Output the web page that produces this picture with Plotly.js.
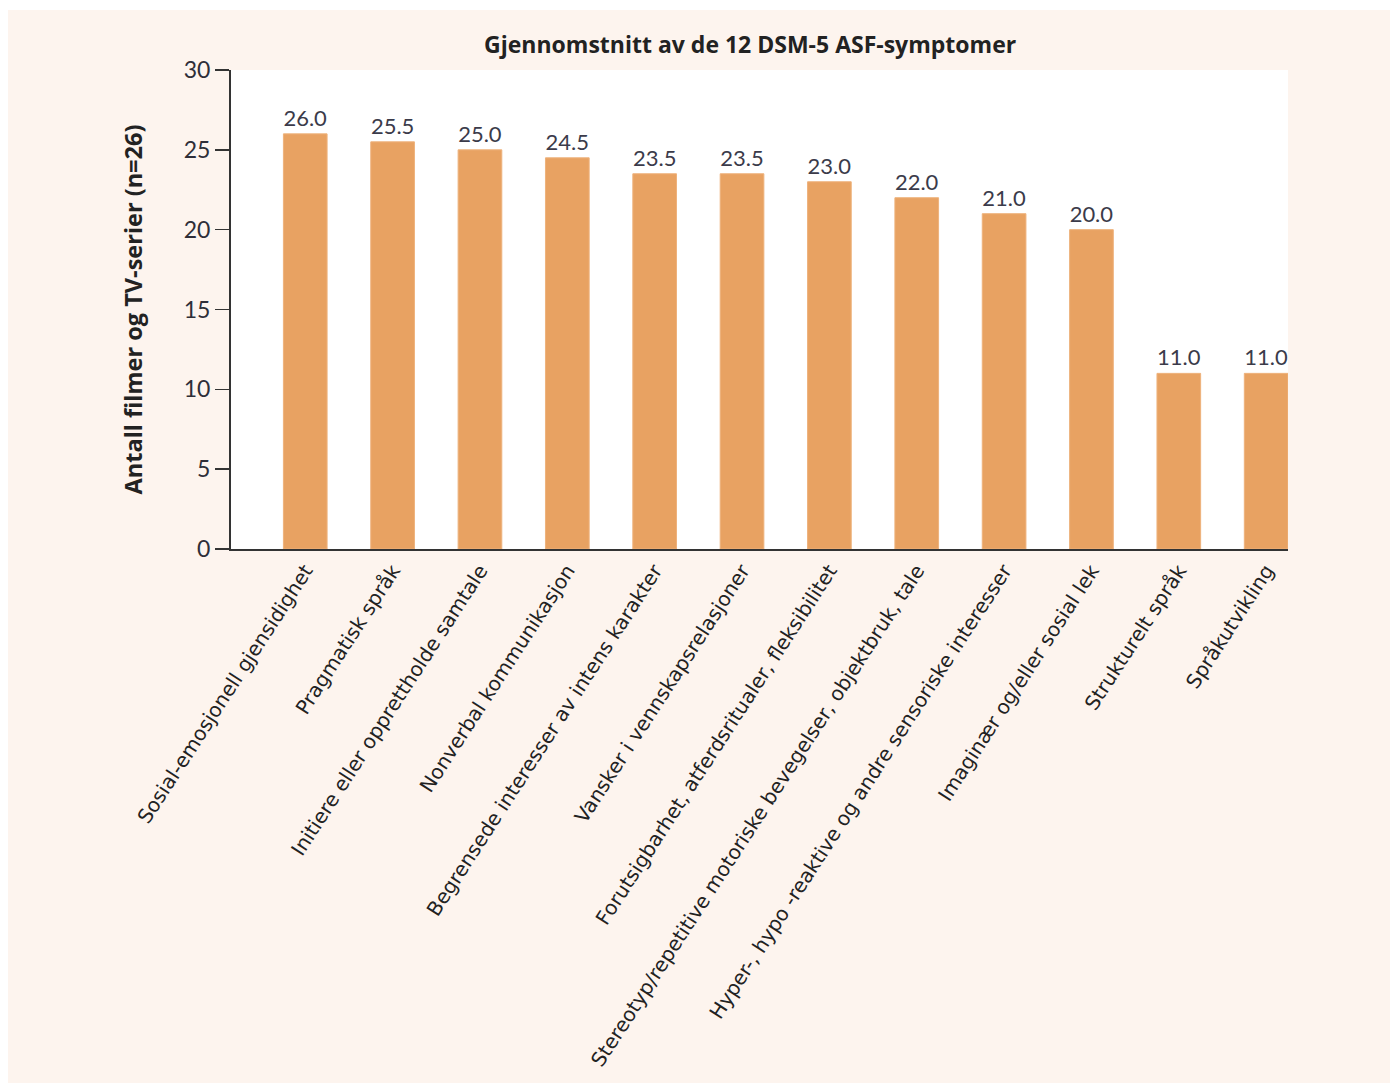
<!DOCTYPE html>
<html>
<head>
<meta charset="utf-8">
<script src="https://cdn.plot.ly/plotly-3.0.1.min.js"></script>
<style>
html,body{margin:0;padding:0;background:#ffffff;}
#chart{position:absolute;left:8px;top:10px;width:1382px;height:1073px;}
</style>
</head>
<body>
<div id="chart"></div>
<script>
const categories = [
  "Sosial-emosjonell gjensidighet",
  "Pragmatisk språk",
  "Initiere eller opprettholde samtale",
  "Nonverbal kommunikasjon",
  "Begrensede interesser av intens karakter",
  "Vansker i vennskapsrelasjoner",
  "Forutsigbarhet, atferdsritualer, fleksibilitet",
  "Stereotyp/repetitive motoriske bevegelser, objektbruk, tale",
  "Hyper-, hypo -reaktive og andre sensoriske interesser",
  "Imaginær og/eller sosial lek",
  "Strukturelt språk",
  "Språkutvikling"
];
const values = [26.0, 25.5, 25.0, 24.5, 23.5, 23.5, 23.0, 22.0, 21.0, 20.0, 11.0, 11.0];
const valueLabels = values.map(v => v.toFixed(1));
const yTicks = [0, 5, 10, 15, 20, 25, 30];

const trace = {
  type: 'bar',
  x: categories,
  y: values,
  text: valueLabels,
  textposition: 'outside',
  cliponaxis: false,
  textfont: {family: 'Lato, sans-serif', size: 22, color: '#3b3b4a'},
  marker: {color: '#e8a262', line: {color: '#eeb27c', width: 1}},
  width: 0.5,
  hoverinfo: 'skip'
};

const layout = {
  width: 1382,
  height: 1073,
  margin: {l: 223, r: 102, t: 60, b: 534},
  paper_bgcolor: '#fdf4ee',
  plot_bgcolor: '#ffffff',
  showlegend: false,
  title: {
    text: '<b>Gjennomstnitt av de 12 DSM-5 ASF-symptomer</b>',
    font: {family: '"Open Sans", sans-serif', size: 23, color: '#222222'},
    x: 0.537, xref: 'container', xanchor: 'center',
    y: 1 - 35/1073, yref: 'container', yanchor: 'middle'
  },
  xaxis: {
    type: 'category',
    range: [-0.85, 11.25],
    tickangle: -57,
    tickfont: {family: '"DejaVu Sans", sans-serif', size: 20, color: '#222222'},
    showline: true,
    linecolor: '#333333',
    linewidth: 2,
    ticks: '',
    showgrid: false,
    zeroline: false
  },
  yaxis: {
    range: [0, 30],
    tickvals: yTicks,
    ticktext: yTicks.map(String),
    tickfont: {family: 'Lato, sans-serif', size: 23, color: '#2e2e38'},
    ticks: 'outside',
    ticklen: 14,
    tickwidth: 1.5,
    tickcolor: '#333333',
    showline: true,
    linecolor: '#333333',
    linewidth: 2,
    showgrid: false,
    zeroline: false,
    title: {
      text: '<b>Antall filmer og TV-serier (n=26)</b>',
      font: {family: '"Open Sans", sans-serif', size: 23.5, color: '#222222'},
      standoff: 34
    }
  }
};

Plotly.newPlot('chart', [trace], layout, {displayModeBar: false, staticPlot: true});
</script>
</body>
</html>
